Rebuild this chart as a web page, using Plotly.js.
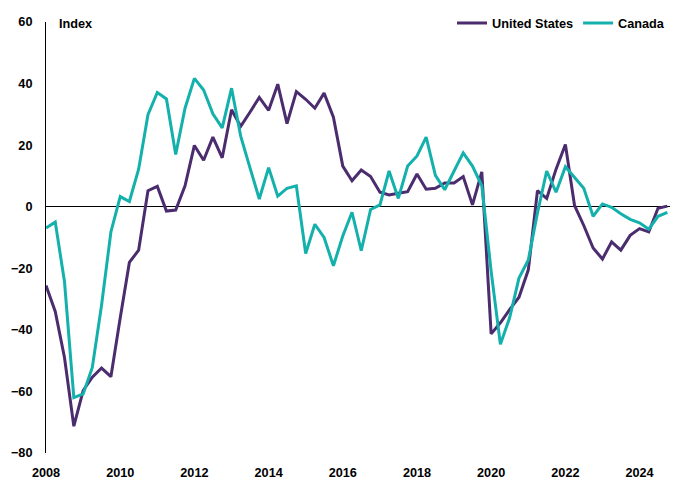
<!DOCTYPE html>
<html>
<head>
<meta charset="utf-8">
<script src="https://cdn.plot.ly/plotly-3.0.1.min.js"></script>
<style>
html,body{margin:0;padding:0;background:#fff;}
#chart{width:678px;height:479px;}
</style>
</head>
<body>
<div id="chart"></div>
<script>
const quarters = [
'2008-01-01','2008-04-01','2008-07-01','2008-10-01',
'2009-01-01','2009-04-01','2009-07-01','2009-10-01',
'2010-01-01','2010-04-01','2010-07-01','2010-10-01',
'2011-01-01','2011-04-01','2011-07-01','2011-10-01',
'2012-01-01','2012-04-01','2012-07-01','2012-10-01',
'2013-01-01','2013-04-01','2013-07-01','2013-10-01',
'2014-01-01','2014-04-01','2014-07-01','2014-10-01',
'2015-01-01','2015-04-01','2015-07-01','2015-10-01',
'2016-01-01','2016-04-01','2016-07-01','2016-10-01',
'2017-01-01','2017-04-01','2017-07-01','2017-10-01',
'2018-01-01','2018-04-01','2018-07-01','2018-10-01',
'2019-01-01','2019-04-01','2019-07-01','2019-10-01',
'2020-01-01','2020-04-01','2020-07-01','2020-10-01',
'2021-01-01','2021-04-01','2021-07-01','2021-10-01',
'2022-01-01','2022-04-01','2022-07-01','2022-10-01',
'2023-01-01','2023-04-01','2023-07-01','2023-10-01',
'2024-01-01','2024-04-01','2024-07-01','2024-10-01'
];

const unitedStates = [
-25.6,-34,-49,-71.3,
-59.7,-55.4,-52.4,-55.2,
-36.1,-18.1,-14.1,5.2,
6.6,-1.4,-1.1,6.8,
19.9,15.1,22.6,15.9,
31.5,26.1,30.7,35.5,
31.3,39.8,27,37.4,
34.9,32,36.9,29.1,
13.2,8.4,11.9,9.8,
4.7,3.8,4.4,4.9,
10.6,5.7,6,7.7,
7.7,9.8,0.6,11.3,
-41.3,-37.7,-33.4,-29.4,
-20.5,5.2,2.7,12.2,
20.2,0.4,-6.1,-13.4,
-17,-11.4,-14.1,-9.3,
-7.1,-8.2,-0.5,0.2
];

const canada = [
-6.9,-5,-24.3,-62,
-60.8,-52.2,-32,-8.2,
3.3,1.7,12.2,29.9,
37.1,35,17,32,
41.7,37.9,30.2,25.6,
38.5,22.9,12.7,2.5,
12.7,3.4,6,6.8,
-15.2,-5.7,-10,-19.2,
-9.5,-1.8,-14.3,-0.9,
0.6,11.6,2.7,13.2,
16.5,22.6,10.2,5.5,
11.6,17.5,13.2,6.8,
-21,-44.7,-36.1,-23.2,
-17.3,-2,11.6,4.7,
13,9.5,6,-3.1,
0.9,-0.2,-2.3,-4.1,
-5.2,-7.3,-3.1,-1.8
];

const seriesNames = ['United States','Canada'];
const yTicks = [-80,-60,-40,-20,0,20,40,60];

const fontFam = 'Liberation Sans, Arial, sans-serif';
const fs = 12.7;

const traces = [
  {x: quarters, y: unitedStates, name: seriesNames[0], type: 'scatter', mode: 'lines',
   line: {color: '#4B2C6E', width: 3}},
  {x: quarters, y: canada, name: seriesNames[1], type: 'scatter', mode: 'lines',
   line: {color: '#14B1AC', width: 3}}
];

const layout = {
  width: 678, height: 479,
  margin: {l: 46, r: 8, t: 18, b: 26, pad: 0},
  paper_bgcolor: '#fff', plot_bgcolor: '#fff',
  font: {family: fontFam, size: fs, color: '#000'},
  showlegend: true,
  legend: {
    orientation: 'h', x: 1, xanchor: 'right', y: 0.997, yanchor: 'middle',
    font: {family: fontFam, size: fs, weight: 'bold', color: '#000'},
    bgcolor: 'rgba(0,0,0,0)', tracegroupgap: 0, itemwidth: 30
  },
  xaxis: {
    type: 'date',
    range: ['2008-01-01', '2024-10-27'],
    tickformat: '%Y', dtick: 'M24', tick0: '2008-01-01',
    showgrid: false, zeroline: false, showline: false,
    ticks: '', ticklabelstandoff: 10,
    tickfont: {family: fontFam, size: fs, weight: 'bold', color: '#000'}
  },
  yaxis: {
    range: [-80, 60],
    tickvals: yTicks,
    showgrid: false,
    zeroline: true, zerolinecolor: '#000', zerolinewidth: 1,
    showline: true, linecolor: '#000', linewidth: 1,
    ticks: '', ticklabelstandoff: 10,
    tickfont: {family: fontFam, size: fs, weight: 'bold', color: '#000'}
  },
  annotations: [{
    text: 'Index', xref: 'paper', yref: 'paper', x: 0.017, y: 1, xanchor: 'left', yanchor: 'middle',
    yshift: -2, showarrow: false,
    font: {family: fontFam, size: fs, weight: 'bold', color: '#000'}
  }]
};

Plotly.newPlot('chart', traces, layout, {displayModeBar: false, staticPlot: true});
</script>
</body>
</html>
